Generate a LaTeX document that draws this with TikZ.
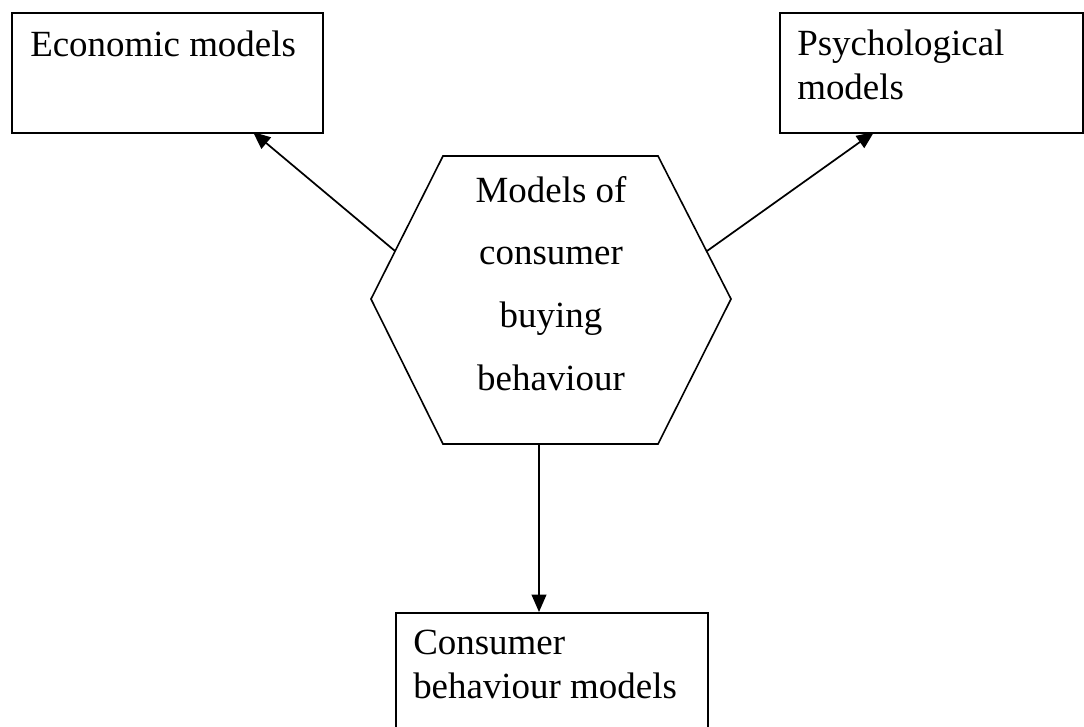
\documentclass[tikz,border=0pt]{standalone}
\usepackage{fontspec}
\setmainfont{Liberation Serif}
\usetikzlibrary{arrows.meta}
\begin{document}
\begin{tikzpicture}[x=0.75pt,y=-0.75pt,
  box/.style={draw=black, line width=1.2pt, fill=white, inner sep=0pt, anchor=north west},
  boxtext/.style={anchor=base west, inner sep=0pt, font=\fontsize{27.7pt}{32.5pt}\selectfont, align=left},
  hexline/.style={draw=black, line width=1.2pt},
  link/.style={draw=black, line width=1.3pt, -{Triangle[length=13pt,width=11pt]}}]
\useasboundingbox (0,0) rectangle (1084,726);
\clip (0,0) rectangle (1084,726);

% outer boxes
\node[box, minimum width=233.25pt, minimum height=90pt] (econ) at (11,12) {};
\node[box, minimum width=227.25pt, minimum height=90pt] (psych) at (779,12) {};
\node[box, minimum width=234pt, minimum height=96pt] (cons) at (395,612) {};

% box labels (anchored at the baseline of their last line)
\node[boxtext] (econtext) at (30,56) {Economic models};
\node[boxtext] (psychtext) at (797,99) {Psychological\\models};
\node[boxtext] (constext) at (413,698) {Consumer\\behaviour models};

% central hexagon
\coordinate (h1) at (443,156);
\coordinate (h2) at (658,156);
\coordinate (h3) at (731,299);
\coordinate (h4) at (658,444);
\coordinate (h5) at (443,444);
\coordinate (h6) at (371,299);
\draw[hexline] (h1) -- (h2) -- (h3) -- (h4) -- (h5) -- (h6) -- cycle;
\node[anchor=base, inner sep=0pt, font=\fontsize{27.7pt}{47pt}\selectfont, align=center] (hextext) at (551,390)
  {Models of\\consumer\\buying\\behaviour};

% connector end points
\coordinate (hexL) at (395,251);
\coordinate (hexR) at (707,251);
\coordinate (hexB) at (539,444);
\coordinate (econTip) at (253,132);
\coordinate (psychTip) at (874,132);

\draw[link] (hexL) -- (econTip);
\draw[link] (hexR) -- (psychTip);
\draw[link] (hexB) -- (hexB |- cons.north);
\end{tikzpicture}
\end{document}
